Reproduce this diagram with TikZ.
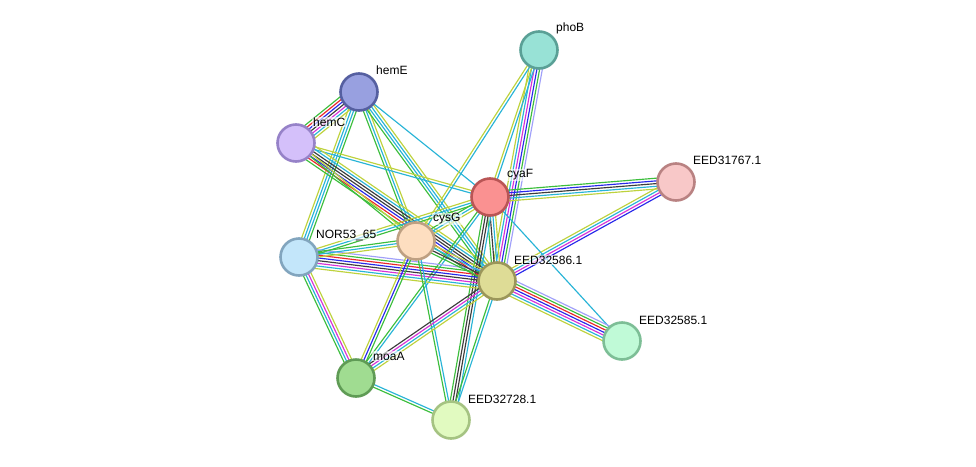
\documentclass[tikz,border=0pt]{standalone}
\usepackage{fontspec}
\setmainfont{Liberation Sans}
\usetikzlibrary{calc,backgrounds}
\definecolor{cG}{RGB}{60,190,60}
\definecolor{cR}{RGB}{235,40,40}
\definecolor{cB}{RGB}{40,40,235}
\definecolor{cK}{RGB}{60,60,60}
\definecolor{cM}{RGB}{215,50,215}
\definecolor{cC}{RGB}{40,180,215}
\definecolor{cY}{RGB}{190,210,60}
\definecolor{cL}{RGB}{160,160,250}
\definecolor{fphoB}{RGB}{152,226,214}\definecolor{dphoB}{RGB}{90,160,150}
\definecolor{fhemE}{RGB}{152,160,224}\definecolor{dhemE}{RGB}{85,95,160}
\definecolor{fhemC}{RGB}{212,192,250}\definecolor{dhemC}{RGB}{150,130,200}
\definecolor{fcyaF}{RGB}{250,145,145}\definecolor{dcyaF}{RGB}{185,85,85}
\definecolor{fa}{RGB}{248,200,200}\definecolor{da}{RGB}{185,130,130}
\definecolor{fcysG}{RGB}{253,222,192}\definecolor{dcysG}{RGB}{190,160,130}
\definecolor{fnor}{RGB}{195,230,250}\definecolor{dnor}{RGB}{130,165,190}
\definecolor{fb}{RGB}{222,220,150}\definecolor{db}{RGB}{155,150,90}
\definecolor{fc}{RGB}{192,250,215}\definecolor{dc}{RGB}{125,190,150}
\definecolor{fmoaA}{RGB}{160,220,145}\definecolor{dmoaA}{RGB}{95,155,85}
\definecolor{fd}{RGB}{225,250,192}\definecolor{dd}{RGB}{165,195,130}
\newcommand\sedge[3]{%
  \foreach \c [count=\i] in {#3} {\xdef\nn{\i}}%
  \foreach \c [count=\i] in {#3} {%
    \pgfmathsetmacro\o{(\i-(\nn+1)/2)*2.7}%
    \draw[\c, line width=1.15pt] ($(#1.center)!\o pt!90:(#2.center)$) -- ($(#2.center)!\o pt!-90:(#1.center)$);
  }%
}
\tikzset{
  prot/.style={circle, minimum size=37pt, inner sep=0pt, line width=2.6pt, fill=f#1, draw=d#1},
  lab/.style={anchor=west, font=\fontsize{12pt}{14pt}\selectfont, text=black, inner sep=1pt, fill=white, fill opacity=0.6, text opacity=1}
}
\begin{document}
\begin{tikzpicture}[x=1pt,y=-1pt]
\useasboundingbox (0,0) rectangle (976,466);
% nodes
\node[prot=phoB] (phoB) at (539,50) {};
\node[prot=hemE] (hemE) at (359,92) {};
\node[prot=hemC] (hemC) at (296,143) {};
\node[prot=cyaF] (cyaF) at (490,197) {};
\node[prot=a] (e31767) at (676,182) {};
\node[prot=cysG] (cysG) at (416,241) {};
\node[prot=nor] (nor) at (299,257) {};
\node[prot=b] (e32586) at (497,281) {};
\node[prot=c] (e32585) at (622,341) {};
\node[prot=moaA] (moaA) at (356,378) {};
\node[prot=d] (e32728) at (451,420) {};
% labels
\node[lab] (phoB-l) at (555,28) {phoB};
\node[lab] (hemE-l) at (375,70) {hemE};
\node[lab] (hemC-l) at (312,122) {hemC};
\node[lab] (cyaF-l) at (506,175) {cyaF};
\node[lab] (e31767-l) at (692,160) {EED31767.1};
\node[lab] (cysG-l) at (432,219) {cysG};
\node[lab] (nor-l) at (315,235) {NOR53\_65};
\node[lab] (e32586-l) at (513,260) {EED32586.1};
\node[lab] (e32585-l) at (638,320) {EED32585.1};
\node[lab] (moaA-l) at (372,356) {moaA};
\node[lab] (e32728-l) at (467,399) {EED32728.1};
% edges
\begin{scope}[on background layer]
\fill[white] (0,0) rectangle (976,466);
\sedge{hemE}{hemC}{cG,cR,cB,cK,cM,cC,cY}
\sedge{hemE}{nor}{cY,cC,cC,cG}
\sedge{hemE}{cysG}{cG,cC,cY}
\sedge{hemE}{e32586}{cG,cC,cC,cY}
\sedge{hemE}{cyaF}{cC}
\sedge{hemC}{cyaF}{cC,cY}
\sedge{hemC}{e32586}{cG,cR,cB,cK,cK,cC,cY}
\sedge{hemC}{cysG}{cG,cY}
\sedge{phoB}{e32586}{cY,cC,cM,cB,cG,cL}
\sedge{phoB}{cyaF}{cY,cC}
\sedge{phoB}{cysG}{cY,cC}
\sedge{cyaF}{e31767}{cY,cC,cK,cB,cG}
\sedge{e32586}{e31767}{cB,cM,cC,cY}
\sedge{cyaF}{e32586}{cG,cK,cC,cY}
\sedge{cyaF}{cysG}{cG,cC,cY}
\sedge{cyaF}{nor}{cY,cC,cG}
\sedge{cyaF}{e32728}{cG,cK,cK,cC}
\sedge{e32586}{e32728}{cG,cC}
\sedge{cyaF}{moaA}{cG,cC}
\sedge{cyaF}{e32585}{cC}
\sedge{e32586}{e32585}{cY,cC,cM,cB,cR,cG,cL}
\sedge{nor}{e32586}{cY,cC,cM,cK,cB,cR,cG,cL}
\sedge{nor}{cysG}{cY,cC,cG}
\sedge{cysG}{e32586}{cG,cK,cC,cY}
\sedge{cysG}{moaA}{cY,cB,cG}
\sedge{cysG}{e32728}{cG,cC}
\sedge{moaA}{e32586}{cY,cC,cM,cK}
\sedge{nor}{moaA}{cG,cC,cM,cY}
\sedge{moaA}{e32728}{cG,cC}
\end{scope}
\end{tikzpicture}
\end{document}
